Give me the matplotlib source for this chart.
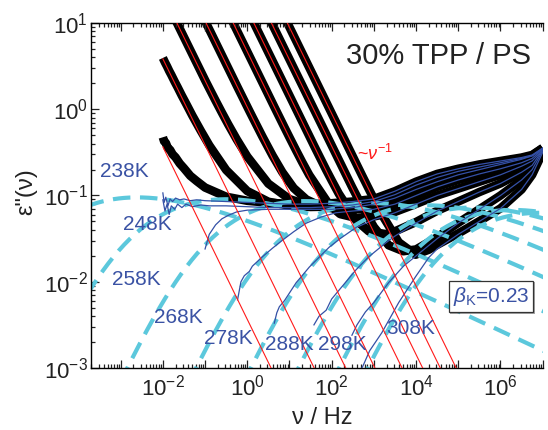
import numpy as np
import matplotlib
matplotlib.use("Agg")
import matplotlib.pyplot as plt
from matplotlib.ticker import LogLocator, FixedLocator, FuncFormatter, NullFormatter
import matplotlib.patheffects as pe

plt.rcParams['font.family'] = ['Liberation Sans', 'DejaVu Sans']
plt.rcParams['mathtext.fontset'] = 'custom'
plt.rcParams['mathtext.rm'] = 'Liberation Sans'
plt.rcParams['mathtext.it'] = 'Liberation Sans:italic'
plt.rcParams['mathtext.bf'] = 'Liberation Sans:bold'

temperatures = ["238K", "248K", "258K", "268K", "278K", "288K", "298K", "308K"]

# dc conductivity term: eps'' = 10**log_cond / nu
log_cond = [-2.436, -1.415, -0.667, 0.024, 0.667, 1.156, 1.573, 1.950]

# KWW fits of the alpha relaxation
beta_kww = 0.23
kww_log_tau = [1.61, -0.50, -2.378, -3.985, -5.255, -6.356, -7.29, -7.938]
kww_delta_eps = [0.727, 0.692, 0.658, 0.624, 0.589, 0.555, 0.520, 0.482]

# conductivity-corrected loss, log10(nu/Hz) and log10(eps'')
nu_238 = [-2.0, -1.97, -1.93, -1.88, -1.83, -1.77, -1.7, -1.6, -1.5, -1.35, -1.2, -1.0,
          -0.5, 0.0, 0.5, 1.0, 1.5, 2.0, 2.5, 3.0, 3.5, 4.0, 4.5, 5.0, 5.5, 6.0, 6.5, 6.75, 7.0]
eps_238 = [-0.97, -1.08, -1.02, -1.12, -1.04, -1.07, -1.03, -1.05, -1.04, -1.06, -1.05, -1.06,
           -1.07, -1.08, -1.09, -1.10, -1.10, -1.09, -1.07, -1.04, -0.95, -0.84, -0.75, -0.69,
           -0.64, -0.60, -0.56, -0.53, -0.45]
nu_248 = [-2.0, -1.95, -1.9, -1.85, -1.8, -1.72, -1.65, -1.55, -1.45, -1.3, -1.1, -0.9,
          -0.5, 0.0, 0.5, 1.0, 1.5, 2.0, 2.5, 3.0, 3.5, 4.0, 4.5, 5.0, 5.5, 6.0, 6.5, 6.75, 7.0]
eps_248 = [-1.05, -1.18, -1.10, -1.22, -1.12, -1.16, -1.10, -1.14, -1.10, -1.13, -1.11, -1.12,
           -1.12, -1.13, -1.14, -1.14, -1.14, -1.13, -1.11, -1.07, -0.99, -0.88, -0.79, -0.72,
           -0.67, -0.62, -0.57, -0.54, -0.45]
nu_258 = [-1.0, -0.9, -0.75, -0.6, -0.45, -0.25, 0.0, 0.5, 1.0, 1.5, 2.0, 2.5, 3.0, 3.5,
          4.0, 4.5, 5.0, 5.5, 6.0, 6.5, 6.75, 7.0]
eps_258 = [-1.62, -1.45, -1.34, -1.27, -1.23, -1.19, -1.17, -1.16, -1.16, -1.16, -1.16, -1.14,
           -1.10, -1.03, -0.93, -0.84, -0.76, -0.70, -0.64, -0.58, -0.54, -0.46]
nu_268 = [-0.23, -0.15, -0.07, 0.05, 0.12, 0.36, 0.6, 0.83, 1.1, 1.4, 1.75, 2.1, 2.5, 3.0,
          3.5, 4.0, 4.5, 5.0, 5.5, 6.0, 6.5, 6.75, 7.0]
eps_268 = [-2.21, -2.00, -1.93, -1.88, -1.82, -1.71, -1.61, -1.52, -1.42, -1.32, -1.25, -1.20,
           -1.18, -1.16, -1.10, -1.00, -0.90, -0.82, -0.75, -0.69, -0.62, -0.57, -0.46]
nu_278 = [0.64, 0.70, 0.76, 0.88, 1.0, 1.16, 1.3, 1.47, 1.94, 2.2, 2.58, 3.0, 3.5, 4.0, 4.5,
          5.0, 5.5, 6.0, 6.5, 6.75, 7.0]
eps_278 = [-2.48, -2.36, -2.29, -2.22, -2.13, -2.01, -1.93, -1.83, -1.60, -1.50, -1.37, -1.28,
           -1.20, -1.10, -1.00, -0.92, -0.84, -0.76, -0.66, -0.60, -0.47]
nu_288 = [1.58, 1.7, 1.87, 2.0, 2.17, 2.58, 2.88, 3.28, 3.5, 4.0, 4.5, 5.0, 5.5, 6.0, 6.5,
          6.75, 7.0]
eps_288 = [-2.50, -2.40, -2.33, -2.20, -2.10, -1.86, -1.71, -1.55, -1.47, -1.32, -1.18, -1.07,
           -0.96, -0.86, -0.73, -0.65, -0.47]
nu_298 = [2.48, 2.6, 2.8, 3.0, 3.35, 3.7, 4.0, 4.5, 5.0, 5.5, 6.0, 6.5, 6.75, 7.0]
eps_298 = [-2.62, -2.50, -2.35, -2.24, -2.01, -1.82, -1.70, -1.50, -1.32, -1.16, -1.00, -0.82,
           -0.70, -0.48]
nu_308 = [2.72, 2.9, 3.19, 3.59, 3.99, 4.3, 4.5, 5.0, 5.5, 6.0, 6.5, 6.75, 7.0]
eps_308 = [-3.00, -2.80, -2.59, -2.24, -1.94, -1.72, -1.62, -1.45, -1.30, -1.15, -0.93, -0.76,
           -0.50]

log_nu_lists = [nu_238, nu_248, nu_258, nu_268, nu_278, nu_288, nu_298, nu_308]
log_eps_lists = [eps_238, eps_248, eps_258, eps_268, eps_278, eps_288, eps_298, eps_308]
nu_first = 1e-2  # lowest measured frequency

# axis decades
x_decades = [-3, -2, -1, 0, 1, 2, 3, 4, 5, 6, 7]
y_decades = [-3, -2, -1, 0, 1]

# label anchors (data coordinates)
label_nu = [1.2e-3, 4.2e-3, 2.4e-3, 2.29e-2, 0.366, 9.7, 175, 7550]
label_eps = [0.192, 0.0455, 0.0105, 0.0039, 0.0022, 0.00185, 0.00185, 0.0029]

BLUE = '#3450a6'
CYAN = '#5cc8dc'
LABEL_BLUE = '#3a52a4'


def kww_loss(wt, beta):
    """Imaginary part of the KWW susceptibility (normalised to delta_eps = 1),
    evaluated on the rotated time contour where the integrand is non-oscillating."""
    u = np.linspace(-46.0, 46.0, 7000)
    x = np.exp(u)
    core = np.exp(-(x ** beta) * np.exp(-0.5j * np.pi * beta)) * x
    out = np.empty(len(wt))
    for k, w in enumerate(wt):
        out[k] = w * np.trapezoid((core * np.exp(-w * x)).imag, u)
    return out


fig = plt.figure(figsize=(5.48, 4.30), dpi=100)
ax = fig.add_axes([0.1655, 0.1442, 0.8248, 0.8023])
ax.set_xscale('log')
ax.set_yscale('log')
ax.set_xlim(10 ** -3.71, 1e7)
ax.set_ylim(1e-3, 10)

# measured loss = conductivity + corrected loss
for i in range(len(temperatures)):
    lnu = np.array(log_nu_lists[i])
    nu = 10 ** lnu
    corr = 10 ** np.array(log_eps_lists[i])
    A = 10 ** log_cond[i]
    if nu[0] > nu_first:
        nu_all = np.concatenate([[nu_first], nu])
        corr_all = np.concatenate([[0.0], corr])
    else:
        nu_all, corr_all = nu, corr
    ax.plot(nu_all, A / nu_all + corr_all, color='black', lw=6.2,
            solid_capstyle='butt', solid_joinstyle='round', zorder=1)

# KWW fits
nu_fit = np.logspace(-3.8, 7.1, 260)
for i in range(len(temperatures)):
    tau = 10 ** kww_log_tau[i]
    ax.plot(nu_fit, kww_delta_eps[i] * kww_loss(2 * np.pi * nu_fit * tau, beta_kww),
            color=CYAN, lw=3.0, ls=(0, (4.2, 2.3)), zorder=2)

# corrected loss
for i in range(len(temperatures)):
    ax.plot(10 ** np.array(log_nu_lists[i]), 10 ** np.array(log_eps_lists[i]),
            color=BLUE, lw=0.9, zorder=3)

# conductivity lines
nu_line = np.array([nu_first, 1e9])
for i in range(len(temperatures)):
    ax.plot(nu_line, 10 ** log_cond[i] / nu_line, color='#ff1a1a', lw=0.8, zorder=4)

for i, T in enumerate(temperatures):
    ax.text(label_nu[i], label_eps[i], T, color=LABEL_BLUE, fontsize=15,
            ha='center', va='center', zorder=5)

ax.text(0.7706, 0.904, '30% TPP / PS', transform=ax.transAxes, fontsize=21,
        ha='center', va='center', color='#222222')
ax.text(1060, 0.30, r'~$\nu^{-1}$', color='#ff1a1a', fontsize=13,
        ha='center', va='center')
bt = ax.text(5.96e5, 0.00675, r'$\beta_{\mathrm{K}}$=0.23', color=LABEL_BLUE, fontsize=15,
             ha='center', va='center', zorder=6,
             bbox=dict(boxstyle='square,pad=0.2', fc='white', ec='#333333', lw=0.9))
bt.get_bbox_patch().set_path_effects([pe.SimplePatchShadow(offset=(1.2, -1.2), alpha=0.5),
                                      pe.Normal()])

# axes styling
for side in ['left', 'top', 'bottom']:
    ax.spines[side].set_linewidth(1.0)
ax.spines['right'].set_visible(False)

ax.xaxis.set_major_locator(FixedLocator([10.0 ** d for d in x_decades]))
ax.xaxis.set_minor_locator(LogLocator(base=10, subs=np.arange(2, 10), numticks=30))
ax.xaxis.set_major_formatter(FuncFormatter(
    lambda v, p: r'$10^{%d}$' % round(np.log10(v)) if round(np.log10(v)) % 2 == 0 else ''))
ax.xaxis.set_minor_formatter(NullFormatter())
ax.yaxis.set_major_locator(FixedLocator([10.0 ** d for d in y_decades]))
ax.yaxis.set_minor_locator(LogLocator(base=10, subs=np.arange(2, 10), numticks=30))
ax.yaxis.set_major_formatter(FuncFormatter(lambda v, p: r'$10^{%d}$' % round(np.log10(v))))
ax.yaxis.set_minor_formatter(NullFormatter())

ax.tick_params(axis='both', which='both', direction='in', top=True, right=False,
               labelsize=16, width=0.9, colors='#222222')
ax.tick_params(axis='both', which='major', length=6)
ax.tick_params(axis='both', which='minor', length=3)
ax.tick_params(axis='x', pad=5)
ax.tick_params(axis='y', pad=2)

fig.text(26 / 548, 1 - 192 / 430, 'ε"(ν)', rotation=90, fontsize=17,
         ha='center', va='center', color='#222222')
fig.text(322 / 548, 1 - 418 / 430, 'ν / Hz', fontsize=17, ha='center', va='center',
         color='#222222')

fig.savefig('out.png', dpi=100)
